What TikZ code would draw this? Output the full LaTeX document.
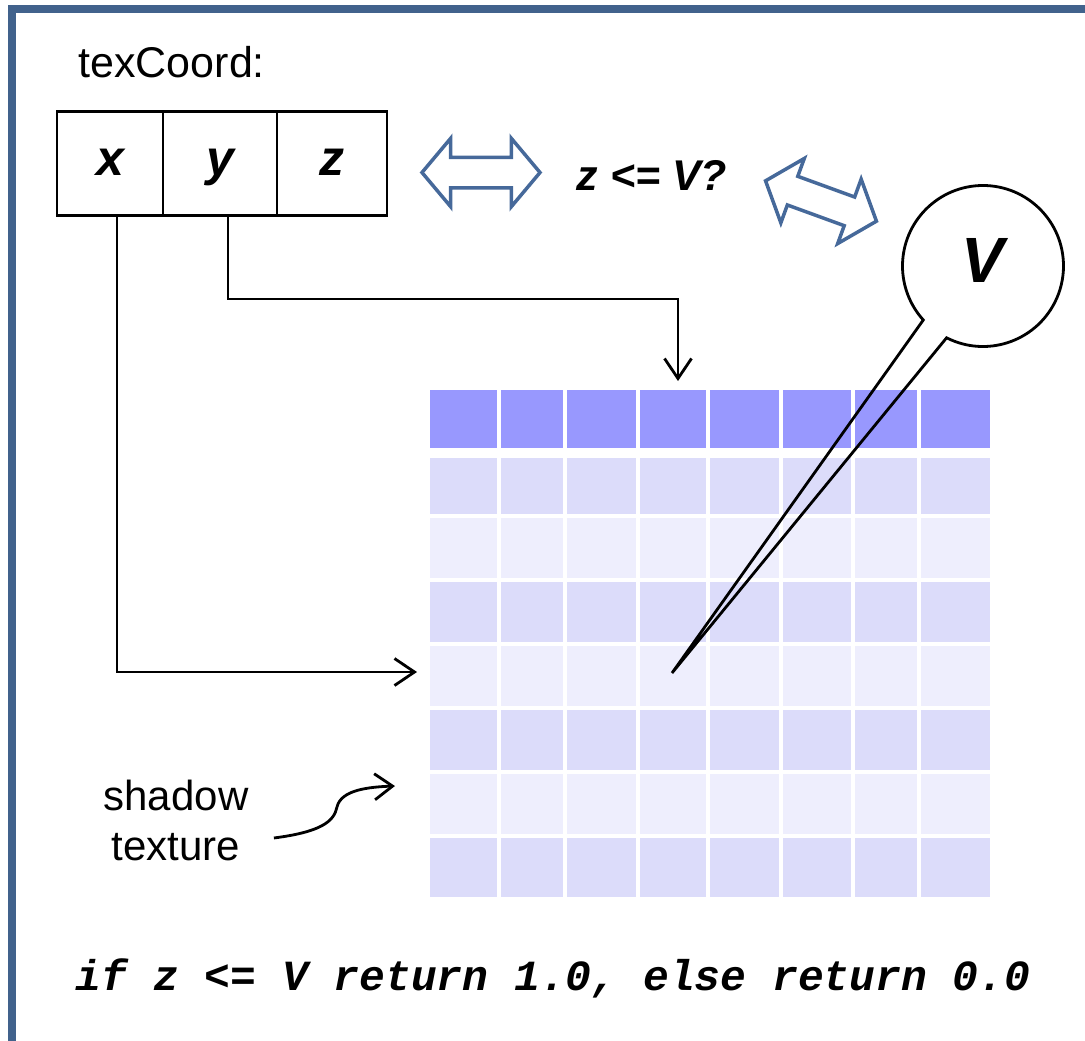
\documentclass[tikz,border=0pt]{standalone}
\usepackage{fontspec}
\setmainfont{Liberation Sans}
\setmonofont{Liberation Mono}
\usetikzlibrary{arrows.meta, shapes.arrows, shapes.callouts}

\definecolor{frameblue}{HTML}{41628C}
\definecolor{arrowblue}{HTML}{46699A}
\definecolor{gridtop}{HTML}{9898FE}
\definecolor{gridmid}{HTML}{DCDCFA}
\definecolor{gridlow}{HTML}{EEEEFD}

\begin{document}
\begin{tikzpicture}[x=1pt, y=-1pt,
    cellbox/.style={draw, line width=2.8pt, minimum height=104pt, inner sep=0pt,
      text height=36pt, text depth=12pt, font=\fontsize{50}{56}\selectfont\bfseries\itshape},
    dblarrow/.style={double arrow, draw=arrowblue, line width=3.5pt, minimum height=118pt,
      inner sep=0pt, text height=27pt, text depth=0pt, text width=0pt,
      double arrow head extend=19pt, double arrow tip angle=100},
    feed/.style={line width=2.8pt, -{Straight Barb[length=20pt, width=27pt]}}]
    \useasboundingbox (0,0) rectangle (1085,1041);

    % Frame
    \draw[frameblue, line width=8pt] (12,9) rectangle (1100,1060);

    % Shadow texture grid
    \foreach \ya/\yb/\col in {390/448/gridtop, 458/514/gridmid, 518/578/gridlow, 582/642/gridmid,
        646/706/gridlow, 710/770/gridmid, 774/834/gridlow, 838/897/gridmid}
      \fill[\col] (430,\ya) rectangle (990,\yb);
    \foreach \xg in {498.5,565,638,708,781,853,919}
      \draw[white, line width=4pt] (\xg,388) -- (\xg,899);

    % Texture coordinate
    \node[anchor=west, font=\fontsize{43}{50}\selectfont] (title) at (75,62) {texCoord:};
    \node[cellbox, minimum width=106pt] (xc) at (110,163.5) {x};
    \node[cellbox, minimum width=114pt] (yc) at (220,163.5) {y};
    \node[cellbox, minimum width=110pt] (zc) at (332,163.5) {z};

    % Comparison
    \node[dblarrow] (arrowL) at (481,172.5) {};
    \node[font=\fontsize{43}{50}\selectfont\bfseries\itshape] (test) at (652,175) {z <= V?};
    \node[dblarrow, rotate=-20] (arrowR) at (821,201) {};

    % Stored depth
    \node[ellipse callout, draw, line width=2.8pt, minimum size=161pt, inner sep=0pt,
      callout absolute pointer={(672,673)}, callout pointer arc=21, text depth=12pt,
      font=\fontsize{64}{70}\selectfont\bfseries\itshape] (vnode) at (983,266) {V};

    % Lookups
    \coordinate (rowhit) at (417,672);
    \coordinate (colhit) at (678,381);
    \coordinate (texhit) at (395,786);
    \draw[feed] ([xshift=7pt]xc.south) |- (rowhit);
    \draw[feed] ([xshift=8pt]yc.south) -- ++(0,82) -| (colhit);

    % Label
    \node[align=center, font=\fontsize{42}{50}\selectfont] (shadowlbl) at (176,820) {shadow\\texture};
    \draw[line width=2.8pt, -{Straight Barb[length=18pt, width=26pt]}]
      ([shift={(22pt,-18pt)}]shadowlbl.east) .. controls (320,832) and (334,822) .. (337,807)
      .. controls (341,790) and (368,787) .. (texhit);

    % Rule
    \node[font=\ttfamily\fontsize{43}{50}\selectfont\bfseries\itshape] (rule) at (553,978)
      {if z <= V return 1.0, else return 0.0};
  \end{tikzpicture}
\end{document}
